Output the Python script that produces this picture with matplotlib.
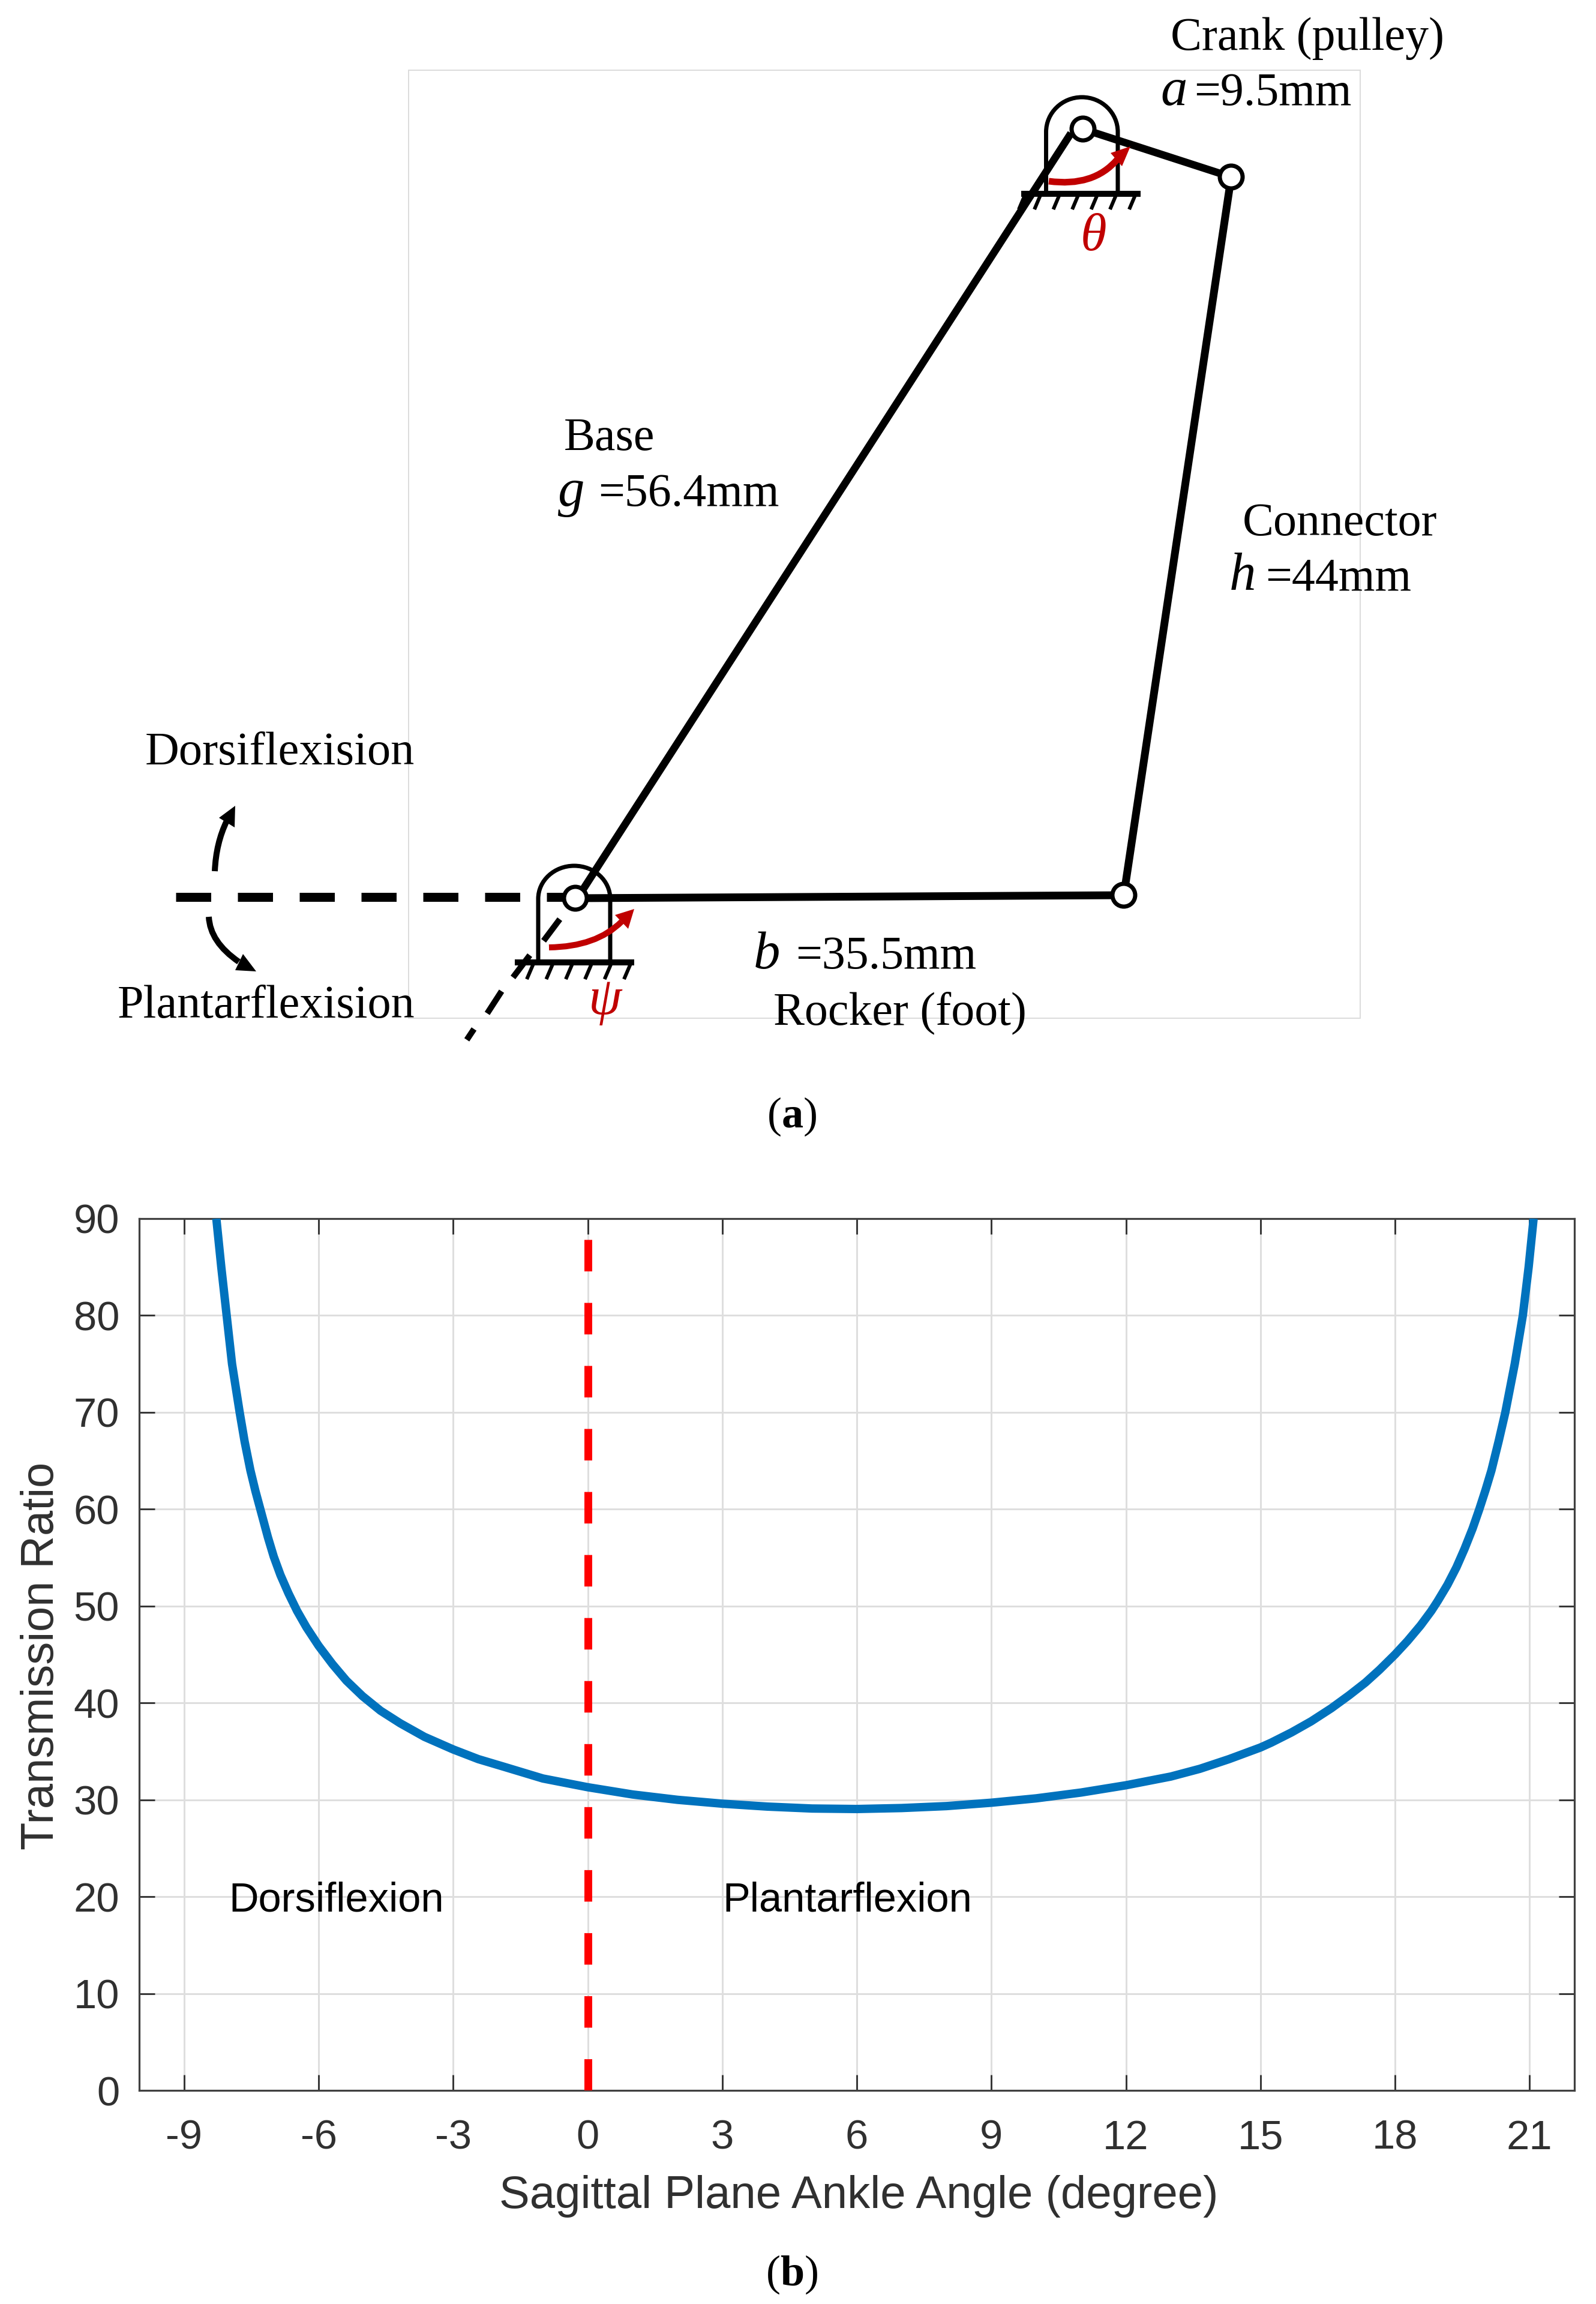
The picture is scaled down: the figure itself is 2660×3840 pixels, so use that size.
import matplotlib
matplotlib.use("Agg")
import matplotlib.pyplot as plt
from matplotlib.path import Path
from matplotlib.patches import PathPatch, Polygon, Circle, Rectangle

# ---------- panel (b) data ----------
angle_deg = [-8.28, -8.17, -8.05, -7.93, -7.76, -7.65, -7.52, -7.41, -7.27, -7.13, -7.00, -6.85, -6.67,
             -6.48, -6.27, -6.00, -5.69, -5.38, -5.02, -4.62, -4.18, -3.64, -3.00, -2.44, -1.86,
             -1.00, 0.00, 1.00, 2.00, 3.00, 4.00, 5.00, 6.00, 7.00, 8.00, 9.00, 10.00,
             11.00, 12.00, 13.00, 13.65, 14.30, 15.00, 15.24, 15.69, 16.13, 16.58, 16.98, 17.34, 17.65,
             18.00, 18.28, 18.57, 18.81, 18.95, 19.17, 19.37, 19.55, 19.73, 19.88, 20.02, 20.15,
             20.31, 20.46, 20.67, 20.85, 20.98, 21.09]
transmission_ratio = [90, 85, 80, 75, 70, 67, 64, 61.9, 59.5, 57.1, 55.1, 53.2, 51.3,
                      49.5, 47.8, 45.9, 44.0, 42.3, 40.7, 39.2, 37.9, 36.5, 35.2, 34.2, 33.4,
                      32.2, 31.3, 30.55, 30.0, 29.6, 29.3, 29.1, 29.05, 29.15, 29.35, 29.7, 30.15,
                      30.75, 31.5, 32.4, 33.2, 34.2, 35.4, 35.9, 36.95, 38.1, 39.45, 40.8, 42.1, 43.4,
                      45.0, 46.4, 48.0, 49.5, 50.5, 52.2, 54.0, 55.9, 58.0, 60, 62, 64,
                      67, 70, 75, 80, 85, 90]
x_ticks = [-9, -6, -3, 0, 3, 6, 9, 12, 15, 18, 21]
x_tick_labels = ["-9", "-6", "-3", "0", "3", "6", "9", "12", "15", "18", "21"]
y_ticks = [0, 10, 20, 30, 40, 50, 60, 70, 80, 90]
y_tick_labels = ["0", "10", "20", "30", "40", "50", "60", "70", "80", "90"]

# ---------- panel (a) mechanism geometry (picture coordinates) ----------
crank_pivot = (1805, 215)
crank_end = (2052, 295)
base_pivot = (959, 1497)
rocker_end = (1873, 1492)
base_start = (1785, 222)
base_stop = (970, 1485)
hatch_tops_top = [1709, 1735, 1766.5, 1798, 1829.6, 1861, 1893]
hatch_tops_bottom = [890, 922.4, 955, 987, 1019.6, 1052]
diag_dashes = [((933, 1532), (906, 1568)), ((883, 1592), (855, 1629)),
               ((836, 1652), (812, 1689)), ((790, 1715), (778, 1733))]

W, H = 2660, 3840
plt.rcParams["font.family"] = ["Liberation Sans", "DejaVu Sans"]
plt.rcParams["mathtext.fontset"] = "custom"
plt.rcParams["mathtext.rm"] = "Liberation Serif"
plt.rcParams["mathtext.bf"] = "Liberation Serif:bold"
plt.rcParams["mathtext.it"] = "Liberation Serif:italic"

def px(p):
    return p * 0.72

fig = plt.figure(figsize=(26.6, 38.4), dpi=100, facecolor="white")

# ---------- panel (b) ----------
L, R, T, B = 232, 2624, 2031, 3484
ax = fig.add_axes([L / W, (H - B) / H, (R - L) / W, (B - T) / H])
ax.set_xlim(-10, 22)
ax.set_ylim(0, 90)
DARK = "#303030"
for s in ax.spines.values():
    s.set_linewidth(px(3.2))
    s.set_color("#404040")
ax.set_axisbelow(True)
ax.grid(True, color="#dedede", linewidth=px(3))
ax.set_xticks(x_ticks, x_tick_labels)
ax.set_yticks(y_ticks, y_tick_labels)
ax.tick_params(axis="both", direction="in", length=px(26), width=px(3), color="#383838",
               labelsize=49.5, labelcolor=DARK, top=True, right=True)
ax.tick_params(axis="x", pad=px(48))
ax.tick_params(axis="y", pad=px(33))

ax.plot([0, 0], [0, 90], color="#ff0000", linewidth=px(13),
        linestyle=(0, (4.04, 4.04)), dash_capstyle="butt", zorder=3)
ax.plot(angle_deg, transmission_ratio, color="#0072BD", linewidth=px(14),
        solid_capstyle="butt", solid_joinstyle="round", zorder=4)

ax.set_xlabel("Sagittal Plane Ankle Angle (degree)", fontsize=54.8, color=DARK, va="baseline")
ax.xaxis.set_label_coords(0.5015, -(3680 - B) / (B - T))
ax.set_ylabel("Transmission Ratio", fontsize=54.5, color=DARK, va="baseline",
              rotation=90, rotation_mode="anchor", ha="center")
ax.yaxis.set_label_coords((89 - L) / (R - L), 0.4985)

# ---------- panel (a) ----------
dg = fig.add_axes([0, 0, 1, 1], facecolor="none")
dg.set_xlim(0, W)
dg.set_ylim(H, 0)
dg.axis("off")

RED = "#C00000"
SERIF = "Liberation Serif"

def seg(p, q, lw, color="black", cap="butt", z=3):
    dg.plot([p[0], q[0]], [p[1], q[1]], color=color, linewidth=px(lw),
            solid_capstyle=cap, zorder=z)

def curve_arrow(p0, c, p1, tip, b1, b2, color, lw):
    dg.add_patch(PathPatch(Path([p0, c, p1], [Path.MOVETO, Path.CURVE3, Path.CURVE3]),
                           fill=False, edgecolor=color, linewidth=px(lw), capstyle="butt", zorder=5))
    dg.add_patch(Polygon([tip, b1, b2], closed=True, facecolor=color, edgecolor="none", zorder=5))

def housing(xl, xr, ytop, yspring, ybase):
    k = 0.5523
    xm = (xl + xr) / 2
    rx = (xr - xl) / 2
    ry = yspring - ytop
    verts = [(xl, ybase), (xl, yspring),
             (xl, yspring - k * ry), (xm - k * rx, ytop), (xm, ytop),
             (xm + k * rx, ytop), (xr, yspring - k * ry), (xr, yspring),
             (xr, ybase)]
    codes = [Path.MOVETO, Path.LINETO, Path.CURVE4, Path.CURVE4, Path.CURVE4,
             Path.CURVE4, Path.CURVE4, Path.CURVE4, Path.LINETO]
    dg.add_patch(PathPatch(Path(verts, codes), fill=False, edgecolor="black",
                           linewidth=px(7), zorder=2))

def pin(c):
    dg.add_patch(Circle(c, 19, facecolor="white", edgecolor="black", linewidth=px(7), zorder=6))

dg.add_patch(Rectangle((681, 117), 2267 - 681, 1697 - 117, fill=False,
                       edgecolor="#dcdcdc", linewidth=px(2), zorder=1))

# supports
housing(1743.5, 1863, 162, 220, 323)
housing(897, 1017, 1443, 1498, 1604)
seg((1702, 323), (1901, 323), 10)
seg((858, 1604), (1057, 1604), 10)
for x in hatch_tops_top:
    seg((x, 323), (x - 11, 349), 6)
for x in hatch_tops_bottom:
    seg((x, 1604), (x - 12, 1632), 6)

# links
seg(base_start, base_stop, 12.5)
seg(crank_pivot, crank_end, 12.5)
seg(crank_end, rocker_end, 13)
seg(base_pivot, rocker_end, 13)

# dashed references
dg.plot([293, 950], [1495, 1495], color="black", linewidth=px(15),
        linestyle=(0, (58.5 / 15, 44.5 / 15)), dash_capstyle="butt", zorder=3)
for p, q in diag_dashes:
    seg(p, q, 10)

pin(crank_pivot)
pin(crank_end)
pin(base_pivot)
pin(rocker_end)

# arrows
curve_arrow((1748, 302), (1822, 312), (1862, 266), (1884, 244), (1851, 255), (1870, 277), RED, 11)
curve_arrow((915, 1579), (994, 1578), (1036, 1536), (1057, 1515), (1025, 1525), (1047, 1548), RED, 10)
curve_arrow((358, 1452), (360, 1405), (378, 1368), (392, 1343), (365, 1363), (391, 1379), "black", 10)
curve_arrow((348, 1528), (350, 1570), (398, 1603), (427, 1619), (405, 1590), (392, 1617), "black", 10)

def t(x, y, s, size=56.1, style="normal", color="black", ha="left"):
    dg.text(x, y, s, fontsize=size, family=SERIF, style=style, color=color,
            ha=ha, va="baseline", zorder=7)

t(1951, 83, "Crank (pulley)")
t(1934, 175, "a", 64, "italic")
t(1990, 175, "=9.5mm")
t(940, 750, "Base")
t(930, 843, "g", 64, "italic")
t(997, 843, "=56.4mm")
t(2071, 892, "Connector")
t(2049, 983, "h", 64, "italic")
t(2109, 983, "=44mm")
t(242, 1274, "Dorsiflexision", 56.5)
t(196, 1696, "Plantarflexision", 56.3)
t(1256, 1614, "b", 64, "italic")
t(1326, 1614, "=35.5mm")
t(1289, 1707, "Rocker (foot)")
t(1822, 417, "\u03b8", 64, "italic", RED, "center")
t(1008, 1690, "\u03c8", 64, "italic", RED, "center")
t(1320, 1879, r"($\mathbf{a}$)", 52, ha="center")
t(1320, 3809, r"($\mathbf{b}$)", 52, ha="center")

# panel (b) inline labels
dg.text(381, 3186, "Dorsiflexion", fontsize=49.4, color="black", va="baseline", zorder=7)
dg.text(1204, 3186, "Plantarflexion", fontsize=49.4, color="black", va="baseline", zorder=7)

fig.savefig("out.png", dpi=100, facecolor="white")
